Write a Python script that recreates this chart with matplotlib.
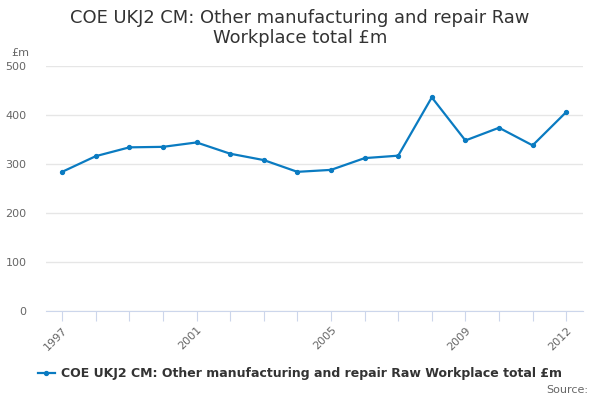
import matplotlib
matplotlib.use("Agg")
import matplotlib.pyplot as plt

years = list(range(1997, 2013))
values = [284, 316, 334, 335, 344, 321, 308, 284, 288, 312, 317, 436, 348, 374, 338, 406]
tick_labels = {1997: "1997", 2001: "2001", 2005: "2005", 2009: "2009", 2012: "2012"}
y_ticks = [0, 100, 200, 300, 400, 500]
series_name = "COE UKJ2 CM: Other manufacturing and repair Raw Workplace total £m"
title = "COE UKJ2 CM: Other manufacturing and repair Raw\nWorkplace total £m"

plt.rcParams['font.family'] = ['DejaVu Sans']
fig = plt.figure(figsize=(6, 4), dpi=100)
ax = fig.add_axes([0.0767, 0.2225, 0.895, 0.6125])

line_color = '#0a7bc1'
ax.plot(years, values, color=line_color, linewidth=1.6, marker='o', markersize=2.8, label=series_name)

ax.set_xlim(1996.52, 2012.5)
ax.set_ylim(0, 500)
ax.set_yticks(y_ticks)
ax.set_yticklabels([str(v) for v in y_ticks])
ax.set_xticks(years)
ax.set_xticklabels([tick_labels.get(y, "") for y in years], rotation=45, ha='right', rotation_mode='anchor')

for s in ['top', 'right', 'left']:
    ax.spines[s].set_visible(False)
ax.spines['bottom'].set_color('#ccd6eb')
ax.grid(axis='y', color='#e6e6e6', linewidth=1)
ax.set_axisbelow(True)
ax.tick_params(axis='y', length=0, labelsize=8, colors='#666666', pad=14)
ax.tick_params(axis='x', length=7, color='#ccd6eb', labelsize=8, labelcolor='#666666', pad=3)

fig.text(0.5, 0.93, title, ha='center', va='center', fontsize=12.9, color='#333333', linespacing=1.1)
fig.text(0.018, 0.868, "£m", fontsize=8, color='#666666', ha='left', va='center')
fig.text(0.98, 0.025, "Source:", fontsize=8, color='#666666', ha='right', va='center')

leg = fig.legend(loc='center', bbox_to_anchor=(0.5, 0.066), frameon=False, fontsize=9,
                 handlelength=1.4, handletextpad=0.5)
for t in leg.get_texts():
    t.set_fontweight('bold')
    t.set_color('#333333')

fig.savefig("out.png", dpi=100)
